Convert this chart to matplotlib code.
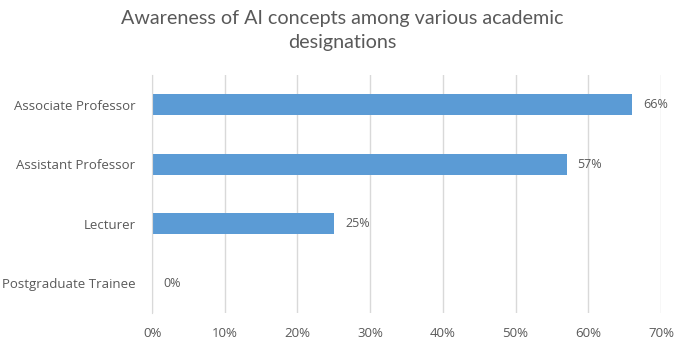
import numpy as np
import matplotlib.pyplot as plt
from matplotlib.ticker import PercentFormatter

plt.rcParams['font.family'] = ['Open Sans', 'DejaVu Sans']

designations = ["Postgraduate Trainee", "Lecturer", "Assistant Professor", "Associate Professor"]
awareness = [0, 25, 57, 66]
xticks = [0, 10, 20, 30, 40, 50, 60, 70]

text_col = "#595959"
bar_col = "#5B9BD5"

fig = plt.figure(figsize=(6.85, 3.44), dpi=100)
ax = fig.add_axes([0.222, 0.090, 0.743, 0.692])

y = np.arange(len(designations))
ax.barh(y, awareness, height=0.35, color=bar_col, zorder=3)

for yi, v in zip(y, awareness):
    ax.annotate(f"{v}%", (v, yi), xytext=(8, 0), textcoords="offset points",
                va="center", ha="left", fontsize=9, color=text_col)

ax.set_xlim(0, 70)
ax.set_ylim(-0.5, len(designations) - 0.5)
ax.set_xticks(xticks)
ax.xaxis.set_major_formatter(PercentFormatter(decimals=0))
ax.set_yticks(y)
ax.set_yticklabels(designations)
ax.tick_params(axis="both", length=0, labelsize=9.5, labelcolor=text_col)
ax.tick_params(axis="x", pad=10)
ax.tick_params(axis="y", pad=12)

ax.grid(axis="x", color="#D9D9D9", linewidth=1, zorder=0)
for s in ["top", "right", "bottom"]:
    ax.spines[s].set_visible(False)
ax.spines["left"].set_color("#D9D9D9")
ax.spines["left"].set_zorder(4)

fig.suptitle("Awareness of AI concepts among various academic\ndesignations",
             x=0.5, y=0.972, fontsize=14.2, color=text_col, linespacing=1.5,
             family=['Lato', 'DejaVu Sans'])

fig.savefig("out.png", dpi=100)
